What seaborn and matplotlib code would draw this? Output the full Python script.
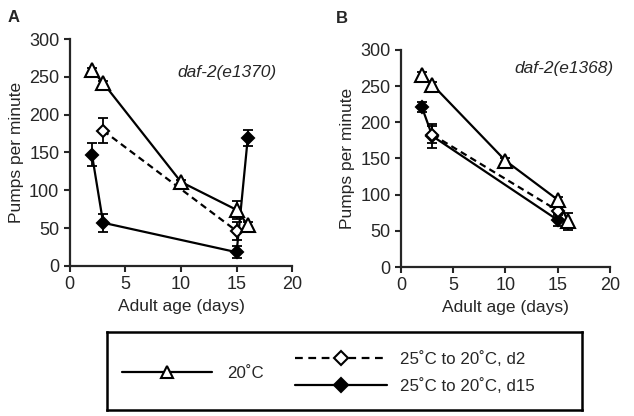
import matplotlib
matplotlib.use("Agg")
import matplotlib.pyplot as plt
import seaborn as sns
from matplotlib.lines import Line2D

# ===============================
# DATA
# ===============================

# Panel A - daf-2(e1370)
a_days_20 = [2, 3, 10, 15, 16]
a_pumps_20 = [259, 242, 111, 74, 54]
a_err_20 = [3, 3, 3, 12, 4]

a_days_d2 = [3, 15]
a_pumps_d2 = [179, 46]
a_err_d2 = [17, 12]

a_days_d15 = [2, 3, 15, 16]
a_pumps_d15 = [147, 57, 18, 169]
a_err_d15 = [15, 12, 8, 11]

# Panel B - daf-2(e1368)
b_days_20 = [2, 3, 10, 15, 16]
b_pumps_20 = [266, 252, 147, 93, 63]
b_err_20 = [3, 3, 3, 4, 12]

b_days_d2 = [3, 15]
b_pumps_d2 = [183, 78]
b_err_d2 = [12, 6]

b_days_d15 = [2, 3, 15]
b_pumps_d15 = [221, 181, 65]
b_err_d15 = [7, 16, 8]

x_ticks = [0, 5, 10, 15, 20]
y_ticks = [0, 50, 100, 150, 200, 250, 300]
legend_labels = ["20˚C", "25˚C to 20˚C, d2", "25˚C to 20˚C, d15"]

# ===============================
# STYLE
# ===============================

sns.set_style("ticks")
plt.rcParams["font.family"] = ["Liberation Sans", "DejaVu Sans"]

W, H = 634, 416
fig = plt.figure(figsize=(W / 100, H / 100), dpi=100)
ax_a = fig.add_axes([0.110, 0.361, 0.351, 0.545])
ax_b = fig.add_axes([0.6325, 0.358, 0.3295, 0.522])

styles = {
    "20": dict(marker="^", mfc="white", ls="-", ms=10),
    "d2": dict(marker="D", mfc="white", ls=(0, (3, 2)), ms=6.5),
    "d15": dict(marker="D", mfc="black", ls="-", ms=6.5),
}


def draw_series(ax, days, pumps, err, key):
    st = styles[key]
    ax.errorbar(days, pumps, yerr=err, fmt="none", ecolor="black",
                elinewidth=1.3, capsize=3.5, capthick=1.3, zorder=2)
    sns.lineplot(x=days, y=pumps, ax=ax, color="black", linewidth=1.6,
                 linestyle=st["ls"], marker=st["marker"], markersize=st["ms"],
                 markerfacecolor=st["mfc"], markeredgecolor="black",
                 markeredgewidth=1.5, zorder=3)


draw_series(ax_a, a_days_d15, a_pumps_d15, a_err_d15, "d15")
draw_series(ax_a, a_days_d2, a_pumps_d2, a_err_d2, "d2")
draw_series(ax_a, a_days_20, a_pumps_20, a_err_20, "20")

draw_series(ax_b, b_days_d15, b_pumps_d15, b_err_d15, "d15")
draw_series(ax_b, b_days_d2, b_pumps_d2, b_err_d2, "d2")
draw_series(ax_b, b_days_20, b_pumps_20, b_err_20, "20")

for ax in [ax_a, ax_b]:
    ax.set_xlim(0, 20)
    ax.set_ylim(0, 300)
    ax.set_xticks(x_ticks)
    ax.set_yticks(y_ticks)
    ax.tick_params(labelsize=13, width=1.5, length=4, direction="out")
    for s in ["left", "bottom"]:
        ax.spines[s].set_linewidth(1.6)
    sns.despine(ax=ax)
    ax.set_xlabel("Adult age (days)", fontsize=12.5)
    ax.set_ylabel("Pumps per minute", fontsize=12.5)

ax_a.text(14.1, 256, "daf-2(e1370)", style="italic", fontsize=12.5, ha="center", va="center")
ax_b.text(20.3, 275, "daf-2(e1368)", style="italic", fontsize=12.5, ha="right", va="center")

fig.text(0.012, 0.976, "A", fontsize=12, fontweight="bold", va="top")
fig.text(0.530, 0.974, "B", fontsize=12, fontweight="bold", va="top")

# ===============================
# LEGEND BOX
# ===============================

leg_ax = fig.add_axes([107 / W, 1 - 410 / H, 475 / W, 78 / H])
leg_ax.set_xticks([])
leg_ax.set_yticks([])
for s in leg_ax.spines.values():
    s.set_visible(True)
    s.set_linewidth(1.8)
    s.set_color("black")

h20 = Line2D([], [], color="black", lw=1.6, ls="-", marker="^", ms=9,
             mfc="white", mec="black", mew=1.5)
hd2 = Line2D([], [], color="black", lw=1.6, ls=(0, (3.5, 2.5)), marker="D", ms=7,
             mfc="white", mec="black", mew=1.5)
hd15 = Line2D([], [], color="black", lw=1.6, ls="-", marker="D", ms=7,
              mfc="black", mec="black", mew=1.5)

leg_fs = 12.2
leg1 = fig.legend(handles=[h20], labels=[legend_labels[0]], loc="center left",
                  frameon=False, fontsize=leg_fs, handlelength=5.3,
                  handletextpad=0.88, borderpad=0, borderaxespad=0,
                  bbox_to_anchor=(122 / W, 1 - 373 / H))
leg2 = fig.legend(handles=[hd2, hd15], labels=legend_labels[1:], loc="center left",
                  frameon=False, fontsize=leg_fs, handlelength=5.4,
                  handletextpad=0.82, borderpad=0, borderaxespad=0,
                  labelspacing=0.6, bbox_to_anchor=(295 / W, 1 - 372.5 / H))

fig.savefig("out.png", dpi=100)
